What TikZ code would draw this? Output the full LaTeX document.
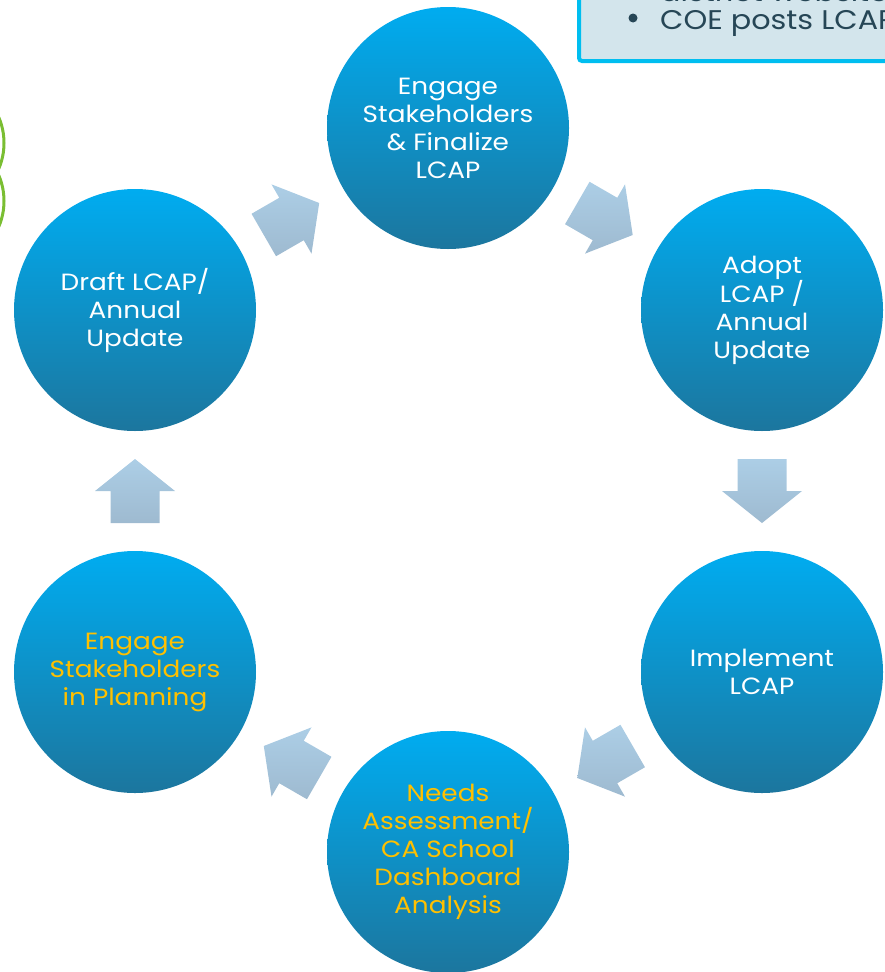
\documentclass[tikz,border=0pt]{standalone}
\usepackage{fontspec}
\setmainfont{Poppins}[FakeStretch=1.12]
\usetikzlibrary{calc}
\definecolor{ctop}{RGB}{0,172,240}
\definecolor{cmid}{RGB}{0,150,208}
\definecolor{cbot}{RGB}{28,118,158}
\definecolor{gold}{RGB}{255,192,0}
\definecolor{arrtop}{RGB}{172,206,230}
\definecolor{arrbot}{RGB}{158,186,208}
\definecolor{boxline}{RGB}{0,190,240}
\definecolor{boxfill}{RGB}{211,229,236}
\definecolor{boxtext}{RGB}{38,70,86}
\definecolor{arcgreen}{RGB}{122,190,50}
\tikzset{
  stage/.style={circle, minimum size=242pt, inner sep=0pt, shading=axis,
    top color=ctop, middle color=cmid, bottom color=cbot, text=white,
    align=center, font=\fontsize{23.5}{28}\selectfont},
  goldtext/.style={text=gold},
  barrow/.pic={\shade[top color=arrtop, bottom color=arrbot]
    (-32,-24.5) -- (0,-24.5) -- (0,-40) -- (32,0) -- (0,40) -- (0,24.5) -- (-32,24.5) -- cycle;},
  boxtxt/.style={anchor=base west, inner sep=0pt, text=boxtext, font=\fontsize{27}{28}\selectfont}
}
\begin{document}
\begin{tikzpicture}[x=1pt,y=1pt]
\useasboundingbox (0,0) rectangle (885,-972);
\clip (0,0) rectangle (885,-972);
% top-right note box
\draw[line width=4pt, draw=boxline, fill=boxfill, rounded corners=3pt] (579,20) rectangle (905,-61);
\node[boxtxt] (b1) at (660,-1.5) {district website};
\node[boxtxt] (b2) at (660,-29) {COE posts LCAP};
\fill[boxtext] (633,-18) circle (4.5);
% green arcs at left edge
\draw[arcgreen, line width=3pt] (-61,-143) circle (65);
\draw[arcgreen, line width=3pt] (-61,-201) circle (65);
% stages
\node[stage] (top) at (448,-128) {Engage\\Stakeholders\\\& Finalize\\LCAP};
\node[stage] (adopt) at (762,-310) {Adopt\\LCAP /\\Annual\\Update};
\node[stage] (impl) at (762,-672) {Implement\\LCAP};
\node[stage, goldtext] (needs) at (448,-852) {Needs\\Assessment/\\CA School\\Dashboard\\Analysis};
\node[stage, goldtext] (plan) at (135,-672) {Engage\\Stakeholders\\in Planning};
\node[stage] (draft) at (135,-310) {Draft LCAP/\\Annual\\Update};
% block arrows
\pic[rotate=-30] at ($(top)!0.5!(adopt)$) {barrow};
\pic[rotate=-90] at ($(adopt)!0.5!(impl)$) {barrow};
\pic[rotate=-150] at ($(impl)!0.5!(needs)$) {barrow};
\pic[rotate=150] at ($(needs)!0.5!(plan)$) {barrow};
\pic[rotate=90] at ($(plan)!0.5!(draft)$) {barrow};
\pic[rotate=30] at ($(draft)!0.5!(top)$) {barrow};
\end{tikzpicture}
\end{document}
